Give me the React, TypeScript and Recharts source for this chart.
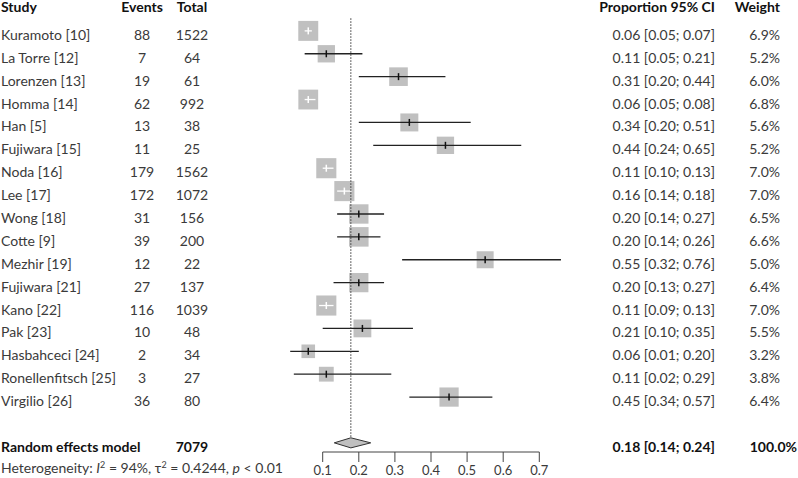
import React from "react";
import {
  ComposedChart,
  Scatter,
  Area,
  XAxis,
  YAxis,
  ErrorBar,
  ReferenceLine,
} from "recharts";

// study table
const studies = [
  "Kuramoto [10]", "La Torre [12]", "Lorenzen [13]", "Homma [14]", "Han [5]",
  "Fujiwara [15]", "Noda [16]", "Lee [17]", "Wong [18]", "Cotte [9]",
  "Mezhir [19]", "Fujiwara [21]", "Kano [22]", "Pak [23]", "Hasbahceci [24]",
  "Ronellenfitsch [25]", "Virgilio [26]",
];
const events = [88, 7, 19, 62, 13, 11, 179, 172, 31, 39, 12, 27, 116, 10, 2, 3, 36];
const totals = [1522, 64, 61, 992, 38, 25, 1562, 1072, 156, 200, 22, 137, 1039, 48, 34, 27, 80];
const proportions = [0.06, 0.11, 0.31, 0.06, 0.34, 0.44, 0.11, 0.16, 0.2, 0.2, 0.55, 0.2, 0.11, 0.21, 0.06, 0.11, 0.45];
const lowerCI = [0.05, 0.05, 0.2, 0.05, 0.2, 0.24, 0.1, 0.14, 0.14, 0.14, 0.32, 0.13, 0.09, 0.1, 0.01, 0.02, 0.34];
const upperCI = [0.07, 0.21, 0.44, 0.08, 0.51, 0.65, 0.13, 0.18, 0.27, 0.26, 0.76, 0.27, 0.13, 0.35, 0.2, 0.29, 0.57];
const weights = [6.9, 5.2, 6.0, 6.8, 5.6, 5.2, 7.0, 7.0, 6.5, 6.6, 5.0, 6.4, 7.0, 5.5, 3.2, 3.8, 6.4];

// random effects model (diamond as drawn) + heterogeneity
const pooledEvents = 7079;
const pooledEst = 0.178;
const pooledLo = 0.132;
const pooledHi = 0.233;
const pooledLabel = "0.18 [0.14; 0.24]";
const pooledWeight = "100.0%";
const hetI2 = "94%";
const hetTau2 = "0.4244";
const hetP = "< 0.01";

const xTicks = [0.1, 0.2, 0.3, 0.4, 0.5, 0.6, 0.7];

const FONT = "Lato, 'Open Sans', sans-serif";
const TEXT = "#3a3a3a";
const BOLD = "#111";
const BOX = "#c0c0c0";
const COL = { study: 1, events: 142, total: 192, ci: 715, weight: 780 };
const MARGIN = { top: 8, right: 222.6, bottom: 0, left: 286.6 };
const X_DOMAIN = [0, 0.8];
const Y_DOMAIN = [-1, 18.4];

const rows = studies.map((study, i) => ({
  study,
  events: events[i],
  total: totals[i],
  x: proportions[i],
  y: i,
  lo: lowerCI[i],
  hi: upperCI[i],
  w: weights[i],
  err: [proportions[i] - lowerCI[i], upperCI[i] - proportions[i]],
}));
// CI hidden inside the box -> drawn in white
const narrowRows = rows.filter((r) => r.hi - r.lo < 0.06);
const wideRows = rows.filter((r) => r.hi - r.lo >= 0.06);

const headerRow = [{ x: pooledEst, y: -1 }];
const totalRow = [{ x: pooledEst, y: 18 }];
const diamond = [
  { x: pooledLo, band: [18, 18] },
  { x: pooledEst, band: [17.78, 18.22] },
  { x: pooledHi, band: [18, 18] },
];

const StudyShape = (props: any) => {
  const { cx, cy, payload } = props;
  const side = 7.6 * Math.sqrt(payload.w);
  const base = cy + 9;
  const ci = `${payload.x.toFixed(2)} [${payload.lo.toFixed(2)}; ${payload.hi.toFixed(2)}]`;
  return (
    <g fontFamily={FONT} fontSize={14} fill={TEXT}>
      <rect x={cx - side / 2} y={cy - side / 2} width={side} height={side} fill={BOX} />
      <text x={COL.study} y={base}>{payload.study}</text>
      <text x={COL.events} y={base} textAnchor="middle">{payload.events}</text>
      <text x={COL.total} y={base} textAnchor="middle">{payload.total}</text>
      <text x={COL.ci} y={base} textAnchor="end">{ci}</text>
      <text x={COL.weight} y={base} textAnchor="end">{payload.w.toFixed(1) + "%"}</text>
    </g>
  );
};

const tickShape = (color: string) => (props: any) => (
  <line x1={props.cx} x2={props.cx} y1={props.cy - 3.5} y2={props.cy + 3.5} stroke={color} strokeWidth={1.5} />
);

const HeaderShape = (props: any) => {
  const base = props.cy + 4;
  return (
    <g fontFamily={FONT} fontSize={14} fontWeight="bold" fill={BOLD}>
      <text x={COL.study} y={base}>Study</text>
      <text x={COL.events} y={base} textAnchor="middle">Events</text>
      <text x={COL.total} y={base} textAnchor="middle">Total</text>
      <text x={COL.ci} y={base} textAnchor="end">Proportion 95% CI</text>
      <text x={COL.weight} y={base} textAnchor="end">Weight</text>
    </g>
  );
};

const TotalShape = (props: any) => {
  const base = props.cy + 9;
  return (
    <g fontFamily={FONT} fontSize={14}>
      <g fontWeight="bold" fill={BOLD}>
        <text x={COL.study} y={base}>Random effects model</text>
        <text x={COL.total} y={base} textAnchor="middle">{pooledEvents}</text>
        <text x={COL.ci} y={base} textAnchor="end">{pooledLabel}</text>
        <text x={797} y={base} textAnchor="end">{pooledWeight}</text>
      </g>
      <text x={COL.study} y={base + 21} fill={TEXT}>
        {"Heterogeneity: "}
        <tspan fontStyle="italic">I</tspan>
        <tspan dy={-5} fontSize={9}>2</tspan>
        <tspan dy={5}>{" = " + hetI2 + ", τ"}</tspan>
        <tspan dy={-5} fontSize={9}>2</tspan>
        <tspan dy={5}>{" = " + hetTau2 + ", "}</tspan>
        <tspan fontStyle="italic">p</tspan>
        <tspan>{" " + hetP}</tspan>
      </text>
    </g>
  );
};

const layer: React.CSSProperties = { position: "absolute", left: 0, top: 0 };

export default function App() {
  return (
    <div style={{ position: "absolute", left: 0, top: 0, width: 798, height: 478, background: "#fff" }}>
      {/* base layer: text columns, boxes, diamond, axis */}
      <div style={layer}>
        <ComposedChart width={798} height={478} margin={MARGIN}>
          <XAxis
            type="number"
            dataKey="x"
            domain={X_DOMAIN}
            ticks={xTicks}
            interval={0}
            axisLine={false}
            tickSize={10}
            tickMargin={4}
            tickLine={{ stroke: "#444" }}
            tick={{ fontSize: 13, fill: TEXT, fontFamily: FONT }}
            tickFormatter={(v: number) => v.toFixed(1)}
            height={26}
          />
          <YAxis type="number" dataKey="y" domain={Y_DOMAIN} reversed hide />

          <Scatter data={rows} shape={StudyShape} isAnimationActive={false} />

          <Area
            data={diamond}
            dataKey="band"
            type="linear"
            fill={BOX}
            fillOpacity={1}
            stroke="#333"
            strokeWidth={1}
            dot={false}
            activeDot={false}
            isAnimationActive={false}
          />

          <Scatter data={headerRow} shape={HeaderShape} isAnimationActive={false} />
          <Scatter data={totalRow} shape={TotalShape} isAnimationActive={false} />

          <ReferenceLine
            segment={[{ x: 0.1, y: 18.4 }, { x: 0.7, y: 18.4 }]}
            stroke="#444"
          />
        </ComposedChart>
      </div>

      {/* top layer: confidence intervals and the null line over the boxes */}
      <div style={layer}>
        <ComposedChart width={798} height={478} margin={{ ...MARGIN, bottom: 26 }}>
          <XAxis type="number" dataKey="x" domain={X_DOMAIN} hide />
          <YAxis type="number" dataKey="y" domain={Y_DOMAIN} reversed hide />
          <Scatter data={wideRows} shape={tickShape("#111")} isAnimationActive={false}>
            <ErrorBar dataKey="err" direction="x" width={0} stroke="#222" strokeWidth={1.3} />
          </Scatter>
          <Scatter data={narrowRows} shape={tickShape("#fff")} isAnimationActive={false}>
            <ErrorBar dataKey="err" direction="x" width={0} stroke="#fff" strokeWidth={1.3} />
          </Scatter>
          <ReferenceLine
            segment={[{ x: pooledEst, y: -0.55 }, { x: pooledEst, y: 17.76 }]}
            stroke="#333"
            strokeDasharray="1.5 1.5"
          />
        </ComposedChart>
      </div>
    </div>
  );
}
